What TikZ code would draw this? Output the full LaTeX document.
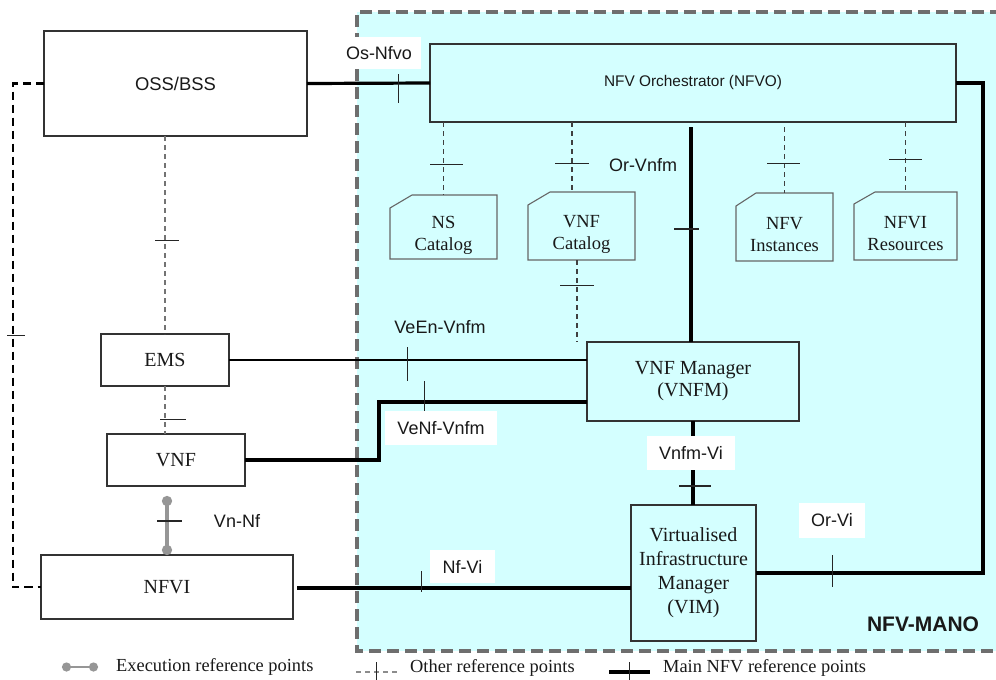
\documentclass[tikz,border=0pt]{standalone}
\usepackage{fontspec}
\setmainfont{Liberation Serif}
\newfontfamily\lsans{Liberation Sans}
\usetikzlibrary{calc,arrows.meta}
\definecolor{manobg}{RGB}{212,255,255}
\definecolor{manoline}{RGB}{110,110,110}
\definecolor{txt}{RGB}{25,25,25}
\definecolor{execgray}{RGB}{150,150,150}
\tikzset{
  box/.style={draw=black!80, line width=1.1pt, inner sep=0pt, outer sep=0pt, align=center, text=txt, font=\fontsize{20}{23}\selectfont},
  wbox/.style={box, fill=white},
  catnode/.style={inner sep=0pt, outer sep=0pt},
  catlbl/.style={align=center, text=txt, inner sep=0pt, font=\fontsize{18.5}{22}\selectfont, yshift=-8pt},
  catline/.style={draw=black!60, line width=1.1pt},
  mainline/.style={line width=3.2pt, black},
  thickline/.style={line width=4.4pt, black},
  medline/.style={line width=2.4pt, black},
  otherdash/.style={line width=1.3pt, black!75, dash pattern=on 5pt off 4pt},
  otherlight/.style={line width=1.3pt, black!55, dash pattern=on 5pt off 4pt},
  blackdash/.style={line width=2.2pt, black, dash pattern=on 8pt off 5pt},
  execline/.style={line width=4pt, execgray, {Circle[length=10pt]}-{Circle[length=10pt]}},
  tickmark/.style={line width=1pt, black!85},
  lbl/.style={font=\lsans\fontsize{18}{20}\selectfont, text=txt, inner sep=0pt},
  wlbl/.style={lbl, fill=white},
  legtxt/.style={font=\fontsize{18.4}{20}\selectfont, text=txt, anchor=west, inner sep=0pt}
}
\begin{document}
\begin{tikzpicture}[x=1pt,y=-1pt]
\useasboundingbox (0,0) rectangle (996,680);
% NFV-MANO area
\fill[manobg] (357,12) rectangle (1002,651);
\draw[line width=4pt, manoline, dash pattern=on 12pt off 6pt] (1002,12) -- (357,12) -- (357,651) -- (1002,651);
\node[font=\lsans\bfseries\fontsize{21}{24}\selectfont, text=txt] (mano) at (923,624) {NFV-MANO};

% boxes
\node[wbox, minimum width=263pt, minimum height=105pt, font=\lsans\fontsize{18.4}{20}\selectfont, text depth=-3pt] (oss) at (175.5,83.5) {OSS/BSS};
\node[box, minimum width=526pt, minimum height=78pt, font=\lsans\fontsize{15.4}{18}\selectfont] (nfvo) at (693,83) {NFV Orchestrator (NFVO)};
\node[wbox, minimum width=128pt, minimum height=52pt] (ems) at (165,360) {EMS};
\node[wbox, minimum width=138pt, minimum height=52pt] (vnf) at (176,460) {VNF};
\node[wbox, minimum width=252pt, minimum height=64pt] (nfvi) at (167,587) {NFVI};
\node[box, minimum width=212pt, minimum height=79pt, font=\fontsize{20}{22}\selectfont] (vnfm) at (693,381.5) {VNF Manager\\(VNFM)};
\node[box, minimum width=125pt, minimum height=136pt, font=\fontsize{20}{24}\selectfont] (vim) at (693.5,573) {Virtualised\\Infrastructure\\Manager\\(VIM)};

% catalogs
\node[catnode, minimum width=107pt, minimum height=64pt, label={[catlbl]center:{NS\\Catalog}}] (nscat) at (443.5,227) {};
\node[catnode, minimum width=107pt, minimum height=68pt, label={[catlbl]center:{VNF\\Catalog}}] (vnfcat) at (581.5,226) {};
\node[catnode, minimum width=97pt, minimum height=68pt, label={[catlbl]center:{NFV\\Instances}}] (nfvinst) at (784.5,227) {};
\node[catnode, minimum width=103pt, minimum height=68pt, label={[catlbl]center:{NFVI\\Resources}}] (nfvires) at (905.5,226) {};
\foreach \c/\cx/\cy in {nscat/22/13, vnfcat/22/13, nfvinst/20/13, nfvires/21/12}{
  \draw[catline] ([xshift=\cx pt]\c.north west) -- (\c.north east) -- (\c.south east) -- (\c.south west) -- ([yshift=-\cy pt]\c.north west) -- cycle;
}

% other reference points (dashed)
\draw[otherdash] (nfvo.south -| nscat.north) -- (nscat.north);
\draw[otherdash] ($(nfvo.south -| vnfcat.north)+(-9.5,0)$) -- ($(vnfcat.north)+(-9.5,0)$);
\draw[otherdash] ($(vnfcat.south)+(-4.5,0)$) -- ($(vnfm.north -| vnfcat.south)+(-4.5,0)$);
\draw[otherdash] ($(nfvo.south -| nfvinst.north)+(0,5)$) -- (nfvinst.north);
\draw[otherdash] (nfvo.south -| nfvires.north) -- (nfvires.north);
\draw[otherlight] (oss.south -| ems.north) -- (ems.north);
\draw[otherlight] (ems.south) -- (ems.south |- vnf.north);

% OSS - NFVI dashed
\coordinate (lk) at (13,0);
\draw[blackdash] (oss.west) -- (oss.west -| lk) -- (nfvi.west -| lk) -- (nfvi.west);

% main reference points
\draw[mainline] (oss.east) -- (nfvo.west);
\draw[mainline] ($(nfvo.south -| vnfm.north)+(-2,5)$) -- ($(vnfm.north)+(-2,0)$);
\draw[mainline] (vnfm.south) -- (vnfm.south |- vim.north);
\coordinate (orv) at (983,0);
\draw[mainline, line width=3.6pt] (vim.east) -- (vim.east -| orv) -- (nfvo.east -| orv) -- (nfvo.east);
\coordinate (nfy) at (0,588);
\draw[mainline, line width=3.6pt, shorten <=4pt] (nfvi.east |- nfy) -- (vim.west |- nfy);
\draw[medline] (ems.east) -- (ems.east -| vnfm.west);
\coordinate (bend) at (379,402);
\draw[thickline] (vnf.east) -| (bend) -- (bend -| vnfm.west);

% execution reference point
\coordinate (vx) at (167,0);
\draw[execline] ($(vnf.south -| vx)+(0,10)$) -- (nfvi.north -| vx);

% tick marks
\draw[tickmark] (398,74) -- (398,103);
\draw[tickmark] (7,335) -- (25,335);
\draw[tickmark] (155,240) -- (179,240);
\draw[tickmark] (160,419) -- (186,419);
\draw[tickmark, line width=1.4pt] (157,521) -- (182,521);
\draw[tickmark] (421,571) -- (421,592);
\draw[tickmark] (424,381) -- (424,411);
\draw[tickmark] (407,347) -- (407,381);
\draw[tickmark, line width=1.4pt] (674,229) -- (699,229);
\draw[tickmark, line width=1.4pt] (679,486) -- (711,486);
\draw[tickmark] (832,555) -- (832,587);
\draw[tickmark] (430,164) -- (463,164);
\draw[tickmark] (555,163) -- (589,163);
\draw[tickmark] (560,285) -- (594,285);
\draw[tickmark] (767,163) -- (800,163);
\draw[tickmark] (889,159) -- (922,159);

% labels
\node[wlbl, minimum width=84pt, minimum height=32pt] (lOsNfvo) at (379,53) {Os-Nfvo};
\node[lbl] (lOrVnfm) at (643,165) {Or-Vnfm};
\node[lbl] (lVeEn) at (440,327) {VeEn-Vnfm};
\node[wlbl, minimum width=112pt, minimum height=34pt] (lVeNf) at (441,428) {VeNf-Vnfm};
\node[wlbl, minimum width=88pt, minimum height=34pt] (lVnfmVi) at (691,453) {Vnfm-Vi};
\node[wlbl, minimum width=66pt, minimum height=35pt] (lOrVi) at (832,520.5) {Or-Vi};
\node[wlbl, minimum width=65pt, minimum height=33pt] (lNfVi) at (462.5,566.5) {Nf-Vi};
\node[lbl] (lVnNf) at (237,521) {Vn-Nf};

% legend
\coordinate (le1) at (62,667);
\coordinate (le2) at (98,667);
\draw[line width=2.6pt, execgray, {Circle[length=9pt]}-{Circle[length=9pt]}] (le1) -- (le2);
\node[legtxt] (lg1) at (116,667) {Execution reference points};
\coordinate (lo1) at (356,672);
\coordinate (lo2) at (397,672);
\draw[line width=1.3pt, black!45, dash pattern=on 5pt off 4pt] (lo1) -- (lo2);
\draw[tickmark] (376,662) -- (376,682);
\node[legtxt] (lg2) at (410,668) {Other reference points};
\coordinate (lm1) at (609,672);
\coordinate (lm2) at (650,672);
\draw[line width=3.4pt] (lm1) -- (lm2);
\draw[tickmark] (629,662) -- (629,682);
\node[legtxt] (lg3) at (663,668) {Main NFV reference points};
\end{tikzpicture}
\end{document}
